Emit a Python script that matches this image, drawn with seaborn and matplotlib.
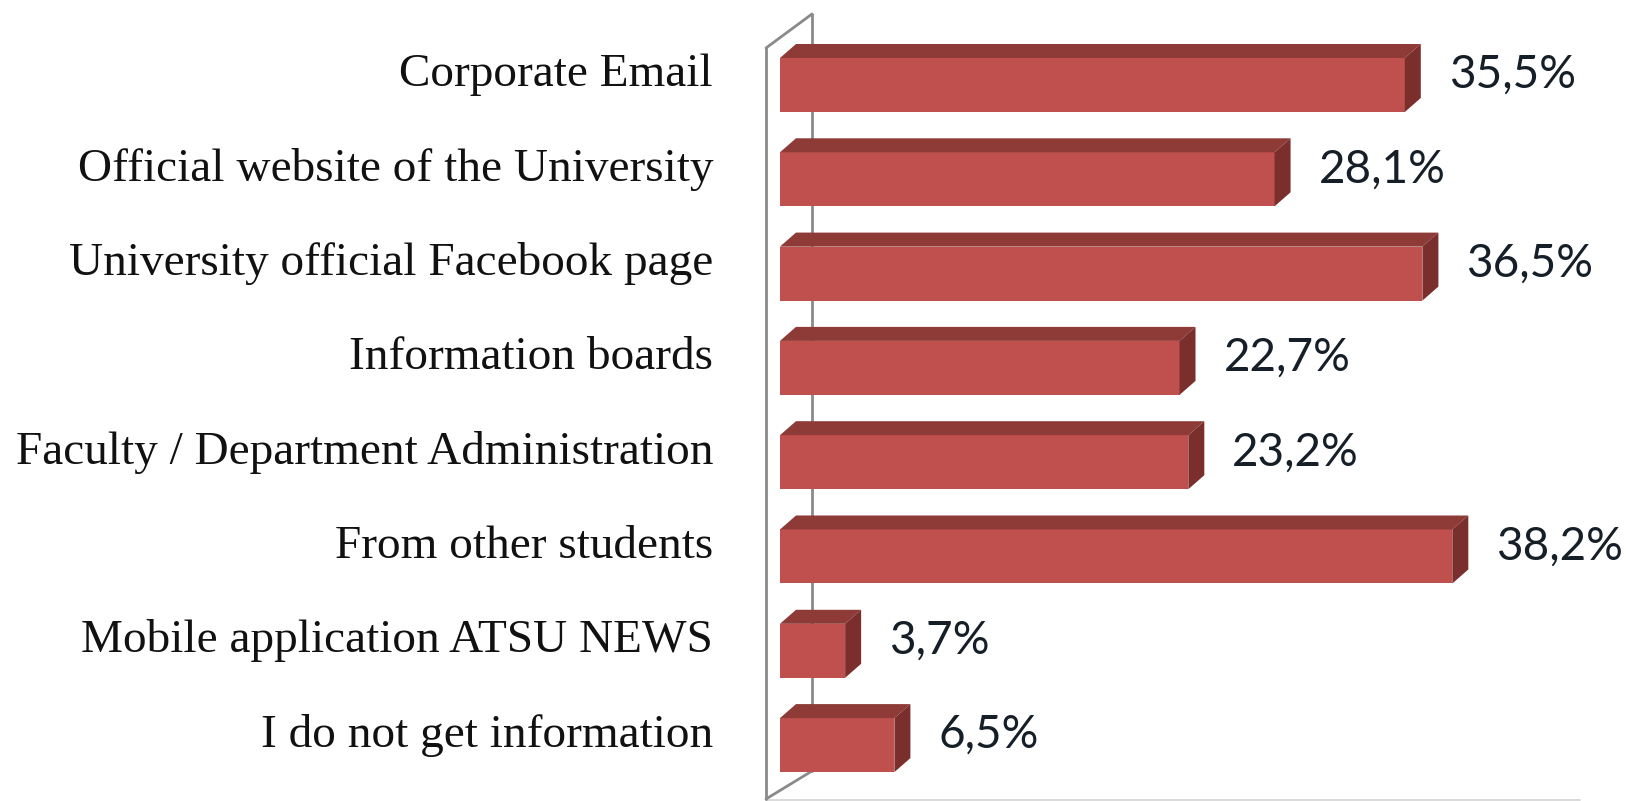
import numpy as np
import pandas as pd
import matplotlib
matplotlib.use("Agg")
import matplotlib.pyplot as plt
from matplotlib.patches import Polygon
import seaborn as sns

# Survey: sources students use to get university information (% of respondents)
categories = [
    "Corporate Email",
    "Official website of the University",
    "University official Facebook page",
    "Information boards",
    "Faculty / Department Administration",
    "From other students",
    "Mobile application ATSU NEWS",
    "I do not get information",
]
shares = [35.5, 28.1, 36.5, 22.7, 23.2, 38.2, 3.7, 6.5]

FRONT = "#C0504D"
TOP = "#8E3A37"
SIDE = "#7A2F2D"

W, H, DPI = 1626, 801, 100
PX_X = 17.6      # pixels per percentage point
PX_Y = 94.3      # pixels per category step
ORIGIN_X = 780   # pixel column of the 0 % baseline
FIRST_Y = 85     # pixel row of the first bar centre


def px_to_x(px):
    return (px - ORIGIN_X) / PX_X


def px_to_y(py):
    return (py - FIRST_Y) / PX_Y


sns.set_theme(style="white")
fig = plt.figure(figsize=(W / DPI, H / DPI), dpi=DPI)
ax = fig.add_axes([0, 0, 1, 1])

df = pd.DataFrame({"source": categories, "share": shares})
bar_h = 54 / PX_Y
sns.barplot(data=df, x="share", y="source", orient="h", color=FRONT,
            saturation=1, width=bar_h, linewidth=0, ax=ax, zorder=3)

ax.set_xlim(px_to_x(0), px_to_x(W))
ax.set_ylim(px_to_y(H), px_to_y(0))
ax.axis("off")

# depth of the extruded bars
dx = 16 / PX_X
dy = 14 / PX_Y

# side wall (thin slab on the left)
fx, bx = px_to_x(766), px_to_x(812)
wall = Polygon([(fx, px_to_y(48)), (bx, px_to_y(14)), (bx, px_to_y(771)),
                (fx, px_to_y(799))], closed=True, facecolor="white",
               edgecolor="none", zorder=1)
ax.add_patch(wall)
wall_kw = dict(color="#8a8a8a", lw=2.0, solid_capstyle="round", zorder=2)
ax.plot([fx, fx], [px_to_y(48), px_to_y(799)], **wall_kw)
ax.plot([fx, bx], [px_to_y(48), px_to_y(14)], **wall_kw)
ax.plot([bx, bx], [px_to_y(14), px_to_y(771)], **wall_kw)
ax.plot([fx, bx], [px_to_y(799), px_to_y(771)], **wall_kw)
# floor front edge
ax.plot([fx, px_to_x(1580)], [px_to_y(800), px_to_y(800)],
        color="#d4d4d4", lw=1.2, zorder=1)

# top and side faces of each bar
for i, v in enumerate(shares):
    top_y = i - bar_h / 2
    bot_y = i + bar_h / 2
    # faint shading where the bar meets the wall
    ax.add_patch(Polygon([(0, top_y), (dx, top_y - dy), (bx, top_y - dy),
                          (bx, top_y + 0.04), (0, top_y + 0.10)],
                         closed=True, facecolor="#ebebeb", edgecolor="none",
                         zorder=1.5))
    ax.add_patch(Polygon([(0, top_y), (v, top_y), (v + dx, top_y - dy),
                          (dx, top_y - dy)], closed=True,
                         facecolor=TOP, edgecolor="none", zorder=3))
    ax.add_patch(Polygon([(v, top_y), (v + dx, top_y - dy),
                          (v + dx, bot_y - dy), (v, bot_y)], closed=True,
                         facecolor=SIDE, edgecolor="none", zorder=3))

# category labels
label_dy = -10 / PX_Y
for i, name in enumerate(categories):
    ax.text(px_to_x(713), i + label_dy, name, ha="right", va="center",
            fontsize=34, family="Liberation Serif", color="#111111")

# value labels
for i, v in enumerate(shares):
    txt = f"{v:.1f}".replace(".", ",") + "%"
    ax.text(v + 44 / PX_X, i + label_dy, txt, ha="left", va="center",
            fontsize=33, family="Lato", color="#161e28")

fig.savefig("out.png", dpi=DPI, facecolor="white")
